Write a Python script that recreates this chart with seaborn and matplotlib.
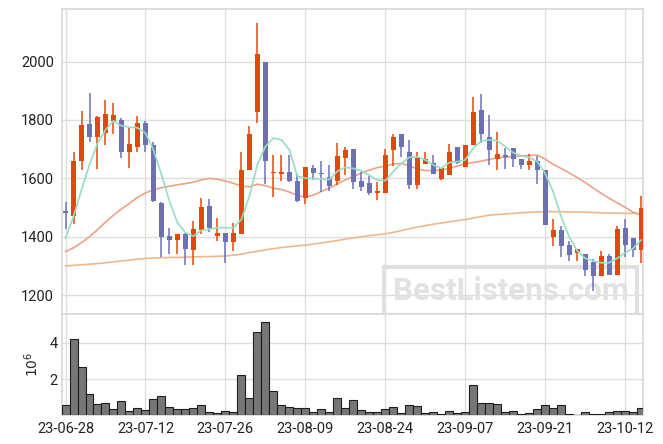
import numpy as np
import pandas as pd
import matplotlib
matplotlib.use('Agg')
import matplotlib.pyplot as plt
import seaborn as sns

UP_COLOR = '#E2470F'
DOWN_COLOR = '#6D71B1'

dates = ['23-06-28', '23-07-12', '23-07-26', '23-08-09', '23-08-24', '23-09-07', '23-09-21', '23-10-12']

opens = [1487, 1470, 1658, 1786, 1741, 1757, 1798, 1800, 1689, 1709,
         1789, 1714, 1517, 1401, 1389, 1410, 1355, 1423, 1505, 1401,
         1414, 1382, 1411, 1627, 1828, 2000, 1620, 1614, 1623, 1591,
         1532, 1635, 1619, 1605, 1590, 1671, 1699, 1591, 1584, 1551,
         1551, 1698, 1752, 1690, 1578, 1650, 1653, 1599, 1613, 1707,
         1640, 1713, 1834, 1743, 1668, 1679, 1703, 1667, 1647, 1660,
         1629, 1398, 1422, 1373, 1344, 1342, 1312, 1264, 1335, 1270,
         1429, 1396, 1353]
highs = [1518, 1691, 1832, 1891, 1813, 1868, 1857, 1806, 1775, 1815,
         1798, 1724, 1518, 1431, 1411, 1412, 1455, 1532, 1530, 1465,
         1414, 1448, 1690, 1779, 2133, 2000, 1681, 1681, 1680, 1614,
         1640, 1647, 1659, 1645, 1720, 1709, 1699, 1623, 1608, 1589,
         1699, 1752, 1752, 1730, 1690, 1690, 1679, 1635, 1719, 1707,
         1714, 1878, 1888, 1817, 1759, 1703, 1703, 1667, 1684, 1675,
         1629, 1460, 1437, 1385, 1359, 1342, 1323, 1352, 1341, 1437,
         1460, 1396, 1538]
lows = [1427, 1442, 1627, 1726, 1632, 1715, 1751, 1670, 1635, 1689,
        1690, 1520, 1331, 1342, 1342, 1302, 1302, 1408, 1416, 1385,
        1311, 1351, 1411, 1627, 1791, 1582, 1536, 1592, 1588, 1519,
        1513, 1594, 1553, 1556, 1576, 1611, 1562, 1557, 1543, 1526,
        1551, 1642, 1674, 1565, 1565, 1650, 1614, 1594, 1613, 1649,
        1640, 1713, 1720, 1646, 1627, 1631, 1640, 1631, 1627, 1580,
        1439, 1367, 1330, 1316, 1316, 1266, 1215, 1264, 1268, 1270,
        1330, 1330, 1310]
closes = [1483, 1660, 1783, 1740, 1810, 1820, 1817, 1689, 1718, 1789,
          1713, 1522, 1399, 1389, 1410, 1357, 1427, 1502, 1429, 1414,
          1382, 1414, 1630, 1752, 2025, 1658, 1623, 1623, 1590, 1522,
          1640, 1617, 1614, 1573, 1677, 1697, 1589, 1571, 1551, 1557,
          1680, 1742, 1709, 1578, 1670, 1666, 1616, 1635, 1690, 1651,
          1714, 1827, 1751, 1697, 1684, 1674, 1667, 1647, 1660, 1629,
          1439, 1422, 1367, 1338, 1359, 1285, 1264, 1335, 1268, 1426,
          1372, 1355, 1498]

# volume in millions
volume = [0.57, 4.19, 2.69, 1.19, 0.63, 0.69, 0.35, 0.80, 0.24, 0.41,
          0.30, 0.91, 1.07, 0.46, 0.35, 0.35, 0.41, 0.57, 0.19, 0.11,
          0.24, 0.19, 2.24, 0.96, 4.57, 5.13, 1.35, 0.57, 0.46, 0.41,
          0.41, 0.19, 0.35, 0.19, 0.96, 0.41, 0.85, 0.30, 0.19, 0.19,
          0.35, 0.46, 0.13, 0.57, 0.52, 0.13, 0.19, 0.07, 0.24, 0.13,
          0.19, 1.67, 0.69, 0.69, 0.63, 0.19, 0.24, 0.07, 0.13, 0.35,
          0.57, 0.41, 0.57, 0.05, 0.0, 0.19, 0.05, 0.05, 0.19, 0.24,
          0.24, 0.19, 0.41]

ma5 = [1394, 1470, 1561, 1647, 1720, 1766, 1797, 1780, 1775, 1773,
       1755, 1698, 1613, 1522, 1448, 1414, 1402, 1422, 1426, 1431,
       1431, 1431, 1459, 1539, 1647, 1709, 1738, 1732, 1698, 1607,
       1601, 1599, 1598, 1596, 1624, 1638, 1634, 1626, 1611, 1594,
       1592, 1623, 1651, 1672, 1674, 1663, 1646, 1634, 1654, 1657,
       1663, 1703, 1728, 1732, 1729, 1709, 1688, 1677, 1672, 1657,
       1617, 1554, 1469, 1400, 1352, 1326, 1317, 1311, 1311, 1326,
       1345, 1360, 1389]
ma20 = [1349, 1362, 1380, 1400, 1424, 1450, 1474, 1495, 1514, 1535,
        1550, 1561, 1568, 1573, 1578, 1582, 1587, 1595, 1600, 1597,
        1591, 1583, 1574, 1571, 1580, 1575, 1566, 1562, 1553, 1542,
        1536, 1543, 1555, 1566, 1581, 1595, 1606, 1618, 1628, 1637,
        1642, 1649, 1651, 1643, 1632, 1627, 1626, 1629, 1634, 1642,
        1650, 1654, 1659, 1665, 1670, 1673, 1674, 1677, 1678, 1680,
        1666, 1648, 1634, 1619, 1603, 1586, 1567, 1549, 1532, 1516,
        1501, 1484, 1474]
ma60 = [1300, 1302, 1304, 1306, 1308, 1311, 1314, 1317, 1320, 1323,
        1326, 1327, 1328, 1329, 1329, 1330, 1331, 1332, 1332, 1333,
        1334, 1337, 1340, 1346, 1350, 1355, 1359, 1363, 1366, 1369,
        1371, 1375, 1379, 1383, 1387, 1392, 1396, 1400, 1404, 1407,
        1410, 1415, 1421, 1427, 1433, 1438, 1443, 1447, 1451, 1455,
        1459, 1464, 1469, 1474, 1476, 1478, 1480, 1482, 1484, 1485,
        1486, 1486, 1486, 1485, 1485, 1484, 1483, 1482, 1481, 1481,
        1480, 1480, 1480]

df = pd.DataFrame({'open': opens, 'high': highs, 'low': lows, 'close': closes,
                   'volume': volume, 'ma5': ma5, 'ma20': ma20, 'ma60': ma60})
df['idx'] = np.arange(len(df))
df['up'] = df['close'] >= df['open']

sns.set_theme(style='whitegrid')
plt.rcParams['font.family'] = ['Roboto', 'DejaVu Sans']
plt.rcParams['axes.edgecolor'] = '#d9d9d9'
plt.rcParams['grid.color'] = '#dedede'
plt.rcParams['xtick.color'] = '#222222'
plt.rcParams['ytick.color'] = '#222222'

fig = plt.figure(figsize=(6.63, 4.44), dpi=100)
gs = fig.add_gridspec(2, 1, height_ratios=[3, 1], hspace=0,
                      left=0.094, right=0.970, top=0.979, bottom=0.0646)
ax = fig.add_subplot(gs[0])
axv = fig.add_subplot(gs[1], sharex=ax)

# candles
colors = np.where(df['up'], UP_COLOR, DOWN_COLOR)
ax.vlines(df['idx'], df['low'], df['high'], colors=colors, linewidth=1.1, zorder=3)
body_lo = np.minimum(df['open'], df['close'])
body_h = np.maximum((df['close'] - df['open']).abs(), 3)
ax.bar(df['idx'], body_h, bottom=body_lo, width=0.62, color=colors, linewidth=0, zorder=4)

# moving averages
sns.lineplot(data=df, x='idx', y='ma60', ax=ax, color='#F0B88A', linewidth=1.2, zorder=2)
sns.lineplot(data=df, x='idx', y='ma20', ax=ax, color='#EDA386', linewidth=1.2, zorder=2)
sns.lineplot(data=df, x='idx', y='ma5', ax=ax, color='#96DDC3', linewidth=1.2, zorder=5)

ax.set_ylim(1136, 2179)
ax.set_yticks([1200, 1400, 1600, 1800, 2000])
ax.set_xlim(-0.4, 72.25)
ax.set_xlabel('')
ax.set_ylabel('')
ax.tick_params(axis='x', labelbottom=False, length=0)
ax.tick_params(axis='y', labelsize=10.5, length=0, pad=6)

# watermark
ax.text(0.772, 0.046, 'BestListens.com', transform=ax.transAxes, ha='center', va='baseline',
        fontsize=22.5, fontweight='bold', color='#e2e2e2', zorder=1,
        bbox=dict(boxstyle='square,pad=0.28', fc='none', ec='#e0e0e0', lw=3))

# volume
axv.bar(df['idx'], df['volume'], width=1.0, color='#777777', edgecolor='#1e1e1e', linewidth=0.8, zorder=3)
axv.set_ylim(0, 5.6)
axv.set_yticks([2, 4])
axv.set_ylabel(r'$10^6$', fontsize=10, labelpad=6)
axv.set_xticks(np.arange(0, 71, 10))
axv.set_xticklabels(dates)
axv.tick_params(axis='both', labelsize=10.5, length=0)
axv.tick_params(axis='x', pad=5)

plt.savefig('out.png', dpi=100)
plt.close()
